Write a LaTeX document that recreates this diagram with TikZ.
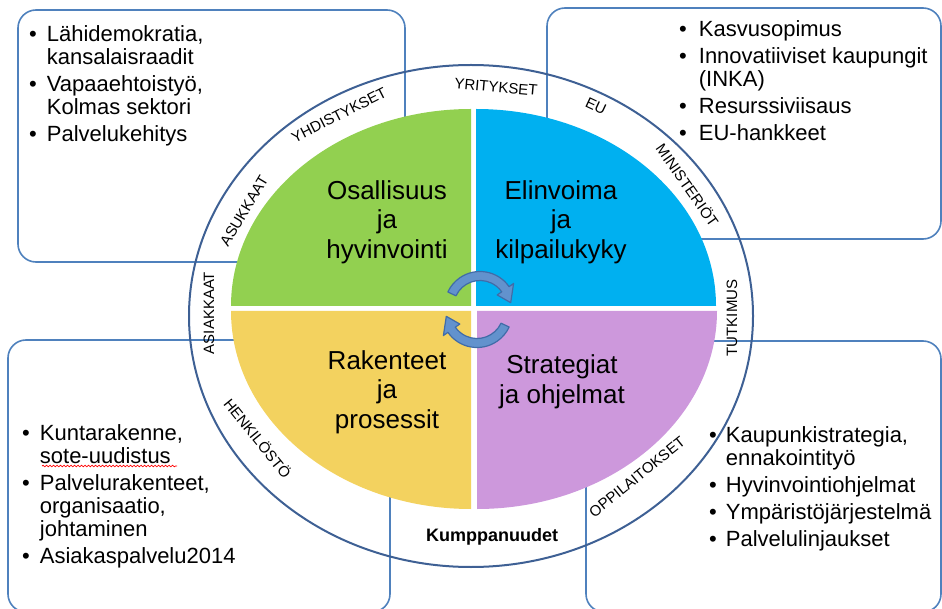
\documentclass[tikz,border=0pt]{standalone}
\usepackage{fontspec}
\setmainfont{Liberation Sans}
\usepackage{tikz}
\usetikzlibrary{decorations.pathmorphing}

\definecolor{boxblue}{RGB}{79,129,189}
\definecolor{ringblue}{RGB}{62,96,148}
\definecolor{qgreen}{RGB}{146,208,80}
\definecolor{qblue}{RGB}{0,176,240}
\definecolor{qyellow}{RGB}{243,210,95}
\definecolor{qpurple}{RGB}{205,152,220}
\definecolor{arrowfill}{RGB}{98,146,205}
\definecolor{arrowedge}{RGB}{64,108,168}

\tikzset{turnarrow/.pic={
  \filldraw[fill=arrowfill, draw=arrowedge, line width=1.2pt, line join=round]
    (205:26.5) arc[start angle=205, end angle=325, radius=26.5]
    -- (325:21) -- (352:31) -- (325:41) -- (325:35.5)
    arc[start angle=325, end angle=205, radius=35.5] -- cycle;
}}

\begin{document}
\begin{tikzpicture}[x=1pt, y=-1pt,
                    boxline/.style={draw=boxblue, line width=1.6pt,
                      rounded corners=18pt},
                    ringlabel/.style={font=\fontsize{15}{15}\selectfont,
                      inner sep=0pt},
                    quadtitle/.style={font=\fontsize{26}{29.5}\selectfont,
                      align=center, inner sep=0pt},
                    bullets/.style={font=\fontsize{22}{23}\selectfont,
                      anchor=base west, inner sep=0pt}]
\path[use as bounding box, clip] (0,0) rectangle (942,609);

% boxes behind the wheel
\draw[boxline] (18,10) rectangle (405,262);
\draw[boxline] (547,8) rectangle (941,239);
\draw[boxline] (8,340) rectangle (390,612);
\draw[boxline] (586,341) rectangle (941,612);

% outer ring
\draw[ringblue, line width=2pt] (471,316) ellipse [x radius=282, y radius=251];

% quadrants
\fill[qgreen] (471,306) -- (231,306)
  arc[start angle=180, end angle=270, x radius=240, y radius=197] -- cycle;
\fill[qblue] (476,306) -- (476,109)
  arc[start angle=270, end angle=360, x radius=240, y radius=197] -- cycle;
\fill[qpurple] (477,311) -- (717,311)
  arc[start angle=0, end angle=90, x radius=240, y radius=198] -- cycle;
\fill[qyellow] (471,311) -- (471,509)
  arc[start angle=90, end angle=180, x radius=240, y radius=198] -- cycle;

\node[quadtitle] (osal) at (387,222) {Osallisuus\\ja\\hyvinvointi};
\node[quadtitle] (elin) at (561,222) {Elinvoima\\ja\\kilpailukyky};
\node[quadtitle] (rake) at (387,392) {Rakenteet\\ja\\prosessit};
\node[quadtitle] (stra) at (562,382) {Strategiat\\ja ohjelmat};

\pic (upturn) at (480,307) {turnarrow};
\pic[rotate=180] (downturn) at (477,312) {turnarrow};

% ring labels
\node[ringlabel, rotate=-5] (yrit) at (496,87) {YRITYKSET};
\node[ringlabel, rotate=-25] (eu) at (596,106) {EU};
\node[ringlabel, rotate=-55] (mini) at (688,185) {MINISTERIÖT};
\node[ringlabel, rotate=90] (tutk) at (732,318) {TUTKIMUS};
\node[ringlabel, rotate=39] (oppi) at (637,477) {OPPILAITOKSET};
\node[font=\bfseries\fontsize{18}{18}\selectfont, inner sep=0pt] (kump) at (492,537) {Kumppanuudet};
\node[ringlabel, rotate=-51] (henk) at (258,438) {HENKILÖSTÖ};
\node[ringlabel, rotate=90] (asia) at (209,313) {ASIAKKAAT};
\node[ringlabel, rotate=59] (asuk) at (244,211) {ASUKKAAT};
\node[ringlabel, rotate=27] (yhdi) at (339,115) {YHDISTYKSET};

% bullet lists
\node[bullets] (osallist) at (29,42) {\begin{tabular}[t]{@{}l@{\hspace{10pt}}l@{}}
  \textbullet & Lähidemokratia,\\ & kansalaisraadit\\[4pt]
  \textbullet & Vapaaehtoistyö,\\ & Kolmas sektori\\[4pt]
  \textbullet & Palvelukehitys
\end{tabular}};
\node[bullets] (elinlist) at (679,37) {\begin{tabular}[t]{@{}l@{\hspace{12pt}}l@{}}
  \textbullet & Kasvusopimus\\[4pt]
  \textbullet & Innovatiiviset kaupungit\\ & (INKA)\\[4pt]
  \textbullet & Resurssiviisaus\\[4pt]
  \textbullet & EU-hankkeet
\end{tabular}};
\node[bullets] (rakelist) at (22,440) {\begin{tabular}[t]{@{}l@{\hspace{10pt}}l@{}}
  \textbullet & Kuntarakenne,\\ & sote-uudistus\\[4pt]
  \textbullet & Palvelurakenteet,\\ & organisaatio,\\ & johtaminen\\[4pt]
  \textbullet & Asiakaspalvelu2014
\end{tabular}};
\node[bullets] (stralist) at (709,442) {\begin{tabular}[t]{@{}l@{\hspace{9pt}}l@{}}
  \textbullet & Kaupunkistrategia,\\ & ennakointityö\\[4pt]
  \textbullet & Hyvinvointiohjelmat\\[4pt]
  \textbullet & Ympäristöjärjestelmä\\[4pt]
  \textbullet & Palvelulinjaukset
\end{tabular}};
\draw[red, line width=0.7pt, decorate,
      decoration={snake, amplitude=0.8pt, segment length=3.5pt}] (42,466) -- (177,466);
\end{tikzpicture}
\end{document}
